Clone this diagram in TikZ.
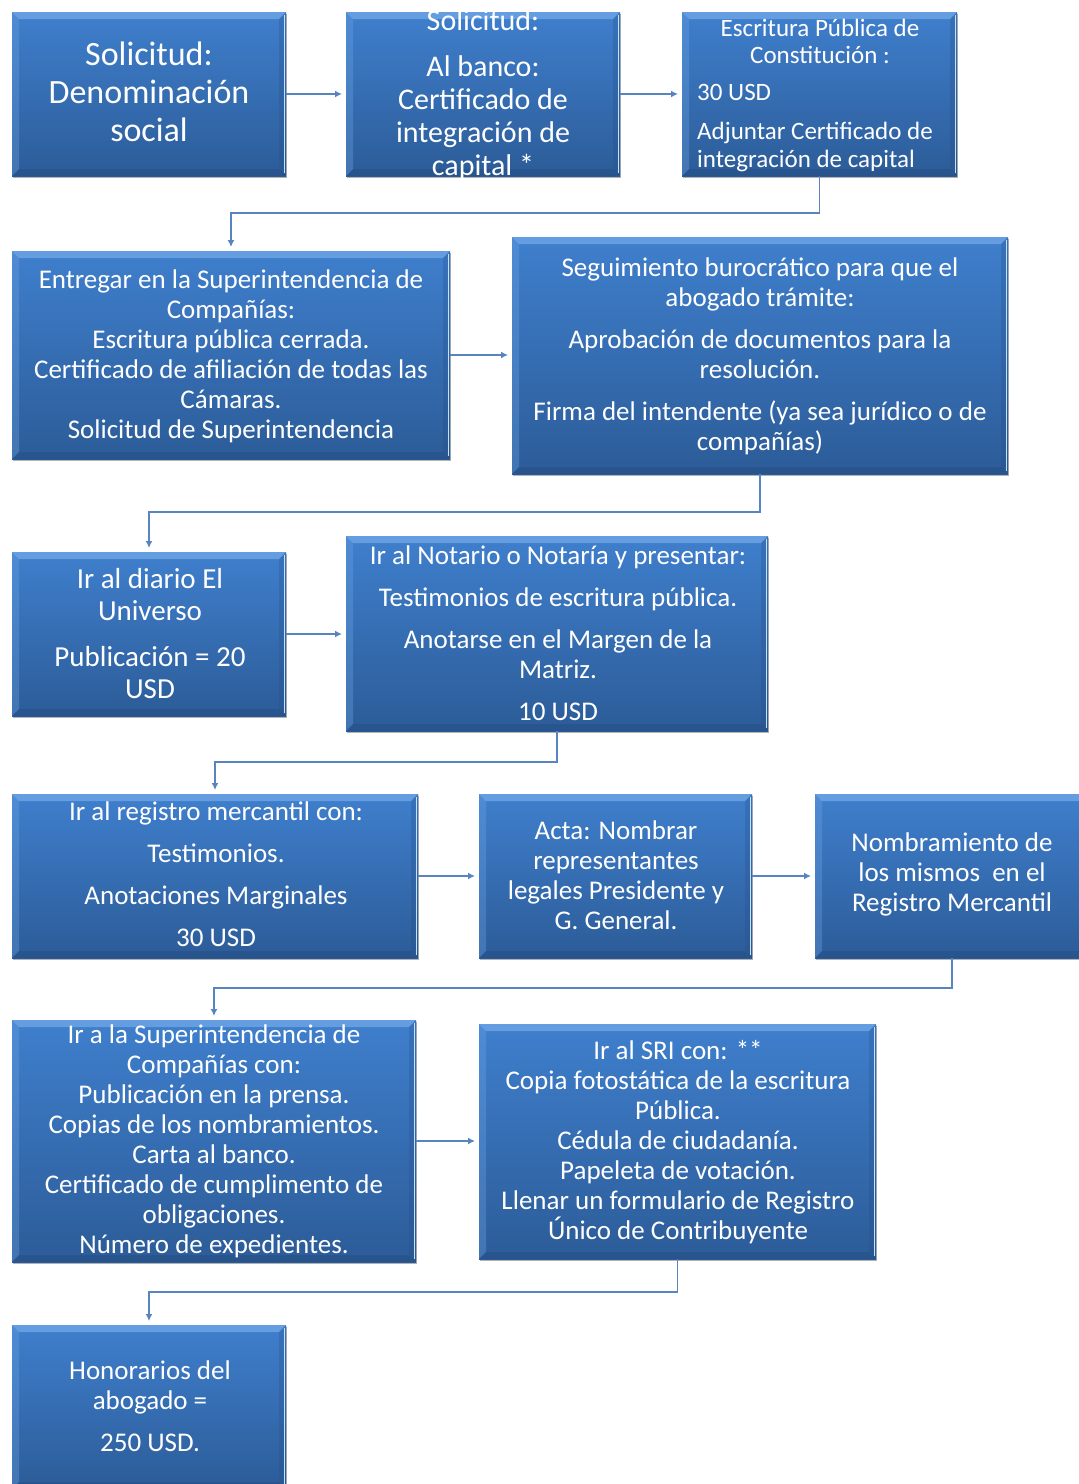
\documentclass[tikz,border=0pt]{standalone}
\usepackage{fontspec}
\setmainfont{Carlito}
\usetikzlibrary{arrows.meta,shadows}

\definecolor{boxTop}{RGB}{63,127,205}
\definecolor{boxBot}{RGB}{44,92,152}
\definecolor{bevelLight}{RGB}{108,164,228}
\definecolor{bevelDark}{RGB}{36,76,128}
\definecolor{edgeLight}{RGB}{198,226,250}
\definecolor{linkBlue}{RGB}{88,133,192}

\tikzset{
  box/.style={rectangle, inner sep=0pt, outer sep=0pt,
    top color=boxTop, bottom color=boxBot,
    drop shadow={shadow xshift=1pt, shadow yshift=-2pt, fill=black, opacity=.3},
    path picture={
      % bevel: light top and left rims, dark bottom rim, bright right edge
      \fill[bevelLight, opacity=.85]
        (path picture bounding box.north west) -- (path picture bounding box.north east)
        -- ([shift={(-7pt,-7pt)}]path picture bounding box.north east)
        -- ([shift={(7pt,-7pt)}]path picture bounding box.north west) -- cycle;
      \fill[bevelLight, opacity=.35]
        (path picture bounding box.north west) -- ([shift={(7pt,-7pt)}]path picture bounding box.north west)
        -- ([shift={(7pt,7pt)}]path picture bounding box.south west)
        -- (path picture bounding box.south west) -- cycle;
      \fill[bevelDark, opacity=.45]
        (path picture bounding box.south west) -- (path picture bounding box.south east)
        -- ([shift={(-7pt,7pt)}]path picture bounding box.south east)
        -- ([shift={(7pt,7pt)}]path picture bounding box.south west) -- cycle;
      \fill[bevelDark, opacity=.25]
        (path picture bounding box.north east) -- ([shift={(-7pt,-7pt)}]path picture bounding box.north east)
        -- ([shift={(-7pt,7pt)}]path picture bounding box.south east)
        -- (path picture bounding box.south east) -- cycle;
      \draw[edgeLight, line width=1.6pt]
        ([shift={(-1.5pt,-3pt)}]path picture bounding box.north east)
        -- ([shift={(-1.5pt,3pt)}]path picture bounding box.south east);
    }},
  txt/.style={text=white, align=center, inner sep=0pt, font=\fontsize{27}{30}\selectfont},
  conn/.style={draw=linkBlue, line width=1.8pt, -{Latex[length=7pt,width=7pt]}, shorten >=4pt},
}

\begin{document}
\begin{tikzpicture}[x=1pt, y=-1pt]
\useasboundingbox (0,0) rectangle (1079,1484);
\clip (0,0) rectangle (1079,1484);

% boxes
\node[box, minimum width=274, minimum height=164] (b1) at (149,94) {};
\node[box, minimum width=274, minimum height=164] (b2) at (483,94) {};
\node[box, minimum width=275, minimum height=164] (b3) at (819.5,94) {};
\node[box, minimum width=438, minimum height=208] (b4) at (231,355) {};
\node[box, minimum width=496, minimum height=237] (b5) at (760,355.5) {};
\node[box, minimum width=274, minimum height=164] (b6) at (149,634) {};
\node[box, minimum width=422, minimum height=195] (b7) at (557,633.5) {};
\node[box, minimum width=406, minimum height=164] (b8) at (215,876) {};
\node[box, minimum width=273, minimum height=164] (b9) at (615.5,876) {};
\node[box, minimum width=274, minimum height=164] (b10) at (952,876) {};
\node[box, minimum width=404, minimum height=242] (b11) at (214,1141) {};
\node[box, minimum width=397, minimum height=235] (b12) at (677.5,1141.5) {};
\node[box, minimum width=274, minimum height=164] (b13) at (149,1407) {};

% texts
\node[txt, font=\fontsize{34}{38}\selectfont] (t1) at (149,91.5)
  {Solicitud:\\Denominación\\social};
\node[txt, font=\fontsize{30}{33}\selectfont] (t2) at (483,94.5)
  {Solicitud:\\[13pt]Al banco:\\Certificado de\\integración de\\capital *};
\node[txt, font=\fontsize{25}{27}\selectfont] (t3a) at (820,41)
  {Escritura Pública de\\Constitución :};
\node[txt, align=left, anchor=west, font=\fontsize{25}{28}\selectfont] (t3b) at (697,128.5)
  {30 USD\\[11pt]Adjuntar Certificado de\\integración de capital};
\node[txt] (t4) at (231,356.5)
  {Entregar en la Superintendencia de\\Compañías:\\Escritura pública cerrada.\\Certificado de afiliación de todas las\\Cámaras.\\Solicitud de Superintendencia};
\node[txt] (t5) at (760,356)
  {Seguimiento burocrático para que el\\abogado trámite:\\[12pt]Aprobación de documentos para la\\resolución.\\[12pt]Firma del intendente (ya sea jurídico o de\\compañías)};
\node[txt, font=\fontsize{29}{32}\selectfont] (t6) at (150,633.5)
  {Ir al diario El\\Universo\\[14pt]Publicación = 20\\USD};
\node[txt] (t7) at (558,633)
  {Ir al Notario o Notaría y presentar:\\[12pt]Testimonios de escritura pública.\\[12pt]Anotarse en el Margen de la\\Matriz.\\[12pt]10 USD};
\node[txt] (t8) at (216,874)
  {Ir al registro mercantil con:\\[12pt]Testimonios.\\[12pt]Anotaciones Marginales\\[12pt]30 USD};
\node[txt] (t9) at (616,875.5)
  {Acta: Nombrar\\representantes\\legales Presidente y\\G. General.};
\node[txt] (t10) at (952,874.5)
  {Nombramiento de\\los mismos\ \ en el\\Registro Mercantil};
\node[txt] (t11) at (214,1141)
  {Ir a la Superintendencia de\\Compañías con:\\Publicación en la prensa.\\Copias de los nombramientos.\\Carta al banco.\\Certificado de cumplimento de\\obligaciones.\\Número de expedientes.};
\node[txt] (t12) at (678,1142)
  {Ir al SRI con: **\\Copia fotostática de la escritura\\Pública.\\Cédula de ciudadanía.\\Papeleta de votación.\\Llenar un formulario de Registro\\Único de Contribuyente};
\node[txt] (t13) at (150,1406)
  {Honorarios del\\abogado =\\[12pt]250 USD.};

% rails of the elbow connectors
\coordinate (r1) at (0,213);
\coordinate (r2) at (0,512);
\coordinate (r3) at (0,762);
\coordinate (r4) at (0,988);
\coordinate (r5) at (0,1292);

% connectors
\draw[conn] (b1.east) -- (b2.west);
\draw[conn] (b2.east) -- (b3.west);
\draw[conn] (b3.south) -- (b3.south |- r1) -| (b4.north);
\draw[conn] (b4.east) -- (b4.east -| b5.west);
\draw[conn] (b5.south) -- (b5.south |- r2) -| (b6.north);
\draw[conn] (b6.east) -- (b6.east -| b7.west);
\draw[conn] (b7.south) -- (b7.south |- r3) -| (b8.north);
\draw[conn] (b8.east) -- (b9.west);
\draw[conn] (b9.east) -- (b10.west);
\draw[conn] (b10.south) -- (b10.south |- r4) -| (b11.north);
\draw[conn] (b11.east) -- (b11.east -| b12.west);
\draw[conn] (b12.south) -- (b12.south |- r5) -| (b13.north);
\end{tikzpicture}
\end{document}
